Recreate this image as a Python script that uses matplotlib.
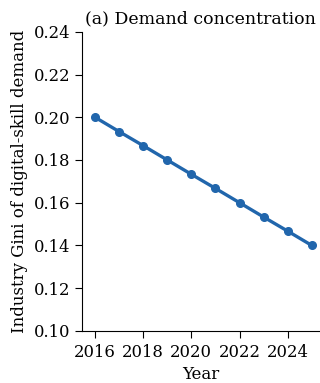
import matplotlib.pyplot as plt

years = [2016, 2017, 2018, 2019, 2020, 2021, 2022, 2023, 2024, 2025]
gini = [0.200, 0.1933, 0.1867, 0.180, 0.1733, 0.1667, 0.160, 0.1533, 0.1467, 0.140]
xticks = [2016, 2018, 2020, 2022, 2024]
yticks = [0.10, 0.12, 0.14, 0.16, 0.18, 0.20, 0.22, 0.24]

plt.rcParams['font.family'] = 'DejaVu Serif'

fig = plt.figure(figsize=(3.2, 3.83), dpi=100)
ax = fig.add_axes([0.257, 0.136, 0.74, 0.781])

ax.plot(years, gini, marker='o', color='#2166ac', linewidth=2.4, markersize=5.5, clip_on=False)

ax.set_xlim(2015.47, 2025.3)
ax.set_ylim(0.10, 0.24)
ax.set_xticks(xticks)
ax.set_yticks(yticks)
ax.set_yticklabels([f'{v:.2f}' for v in yticks])
ax.tick_params(labelsize=11.8, length=5)
ax.tick_params(axis='x', pad=4.5)
ax.spines['top'].set_visible(False)
ax.spines['right'].set_visible(False)

ax.set_xlabel('Year', fontsize=12, labelpad=3.5)
ax.set_ylabel('Industry Gini of digital-skill demand', fontsize=12)
ax.set_title('(a) Demand concentration', fontsize=12.5)

fig.savefig('out.png', dpi=100)
